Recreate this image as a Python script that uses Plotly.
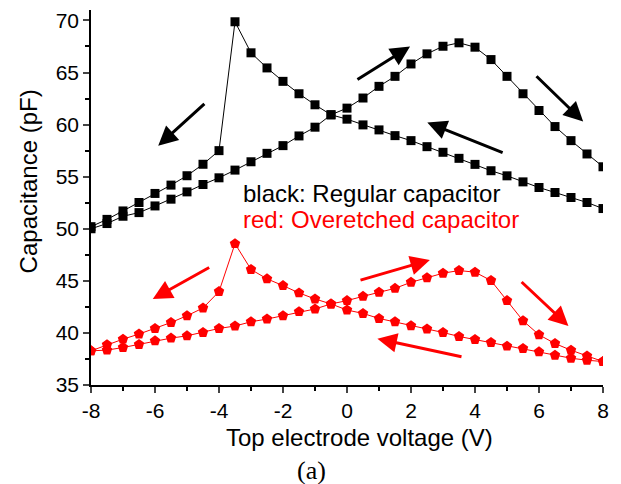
import plotly.graph_objects as go

voltage = [-8 + 0.5 * i for i in range(33)]

# Regular capacitor (black)
black_forward = [50.0, 50.5, 51.2, 51.55, 52.19, 52.84, 53.54, 54.25, 54.89, 55.63, 56.43,
                 57.24, 57.98, 58.91, 59.75, 60.94, 61.58, 62.55, 63.67, 64.63, 65.82, 66.79,
                 67.52, 67.85, 67.43, 66.24, 64.63, 62.96, 61.35, 59.81, 58.46, 57.18, 55.95]
black_backward = [50.2, 50.9, 51.71, 52.52, 53.39, 54.19, 55.09, 56.19, 57.5, 69.87, 66.89,
                  65.44, 64.15, 62.96, 61.9, 60.94, 60.52, 59.97, 59.49, 58.94, 58.46, 57.88,
                  57.34, 56.76, 56.18, 55.57, 55.08, 54.5, 53.96, 53.48, 53.0, 52.52, 51.94]

# Overetched capacitor (red)
red_forward = [38.28, 38.35, 38.6, 38.89, 39.24, 39.5, 39.72, 40.04, 40.43, 40.66, 41.07,
               41.33, 41.65, 42.04, 42.3, 42.78, 43.1, 43.51, 43.9, 44.28, 44.86, 45.29,
               45.73, 45.99, 45.83, 45.03, 43.1, 41.17, 39.82, 38.98, 38.34, 37.79, 37.25]
red_backward = [38.28, 38.86, 39.4, 39.89, 40.43, 41.0, 41.65, 42.39, 43.97, 48.57, 46.09,
                45.19, 44.54, 43.84, 43.26, 42.78, 42.2, 41.87, 41.39, 41.07, 40.69, 40.37,
                40.04, 39.66, 39.37, 39.08, 38.73, 38.5, 38.18, 37.86, 37.57, 37.38, 37.25]

# Sweep-direction arrows: (tail_x, tail_y, head_x, head_y)
black_arrows = [(-4.41, 62.12, -5.90, 57.96), (0.28, 64.23, 1.97, 67.49),
                (5.875, 64.78, 7.38, 60.29), (4.91, 57.26, 2.51, 60.2)]
red_arrows = [(-4.26, 46.36, -6.07, 43.26), (0.375, 45.02, 2.59, 47.0),
              (5.41, 45.02, 6.92, 40.67), (3.625, 37.69, 0.95, 39.45)]

x_ticks = [-8, -6, -4, -2, 0, 2, 4, 6, 8]
x_ticktext = ["-8", "-6", "-4", "-2", "0", "2", "4", "6", "8"]
y_ticks = [35, 40, 45, 50, 55, 60, 65, 70]

FONT = "Liberation Sans, Arial, sans-serif"

fig = go.Figure()
for ys in (black_forward, black_backward):
    fig.add_trace(go.Scatter(x=voltage, y=ys, mode="lines+markers",
                             line=dict(color="black", width=1),
                             marker=dict(symbol="square", size=9, color="black"),
                             showlegend=False))
for ys in (red_forward, red_backward):
    fig.add_trace(go.Scatter(x=voltage, y=ys, mode="lines+markers",
                             line=dict(color="red", width=1),
                             marker=dict(symbol="pentagon", size=11, color="red"),
                             showlegend=False))

annotations = []
for arrows, col in ((black_arrows, "black"), (red_arrows, "red")):
    for tx, ty, hx, hy in arrows:
        annotations.append(dict(x=hx, y=hy, ax=tx, ay=ty, xref="x", yref="y",
                                axref="x", ayref="y", text="", showarrow=True,
                                arrowhead=2, arrowsize=1.3, arrowwidth=3,
                                arrowcolor=col, standoff=0, startstandoff=0))

annotations += [
    dict(x=-3.32, y=53.4, xref="x", yref="y", text="black: Regular capacitor",
         showarrow=False, xanchor="left", yanchor="middle",
         font=dict(family=FONT, size=24, color="black")),
    dict(x=-3.32, y=50.85, xref="x", yref="y", text="red: Overetched capacitor",
         showarrow=False, xanchor="left", yanchor="middle",
         font=dict(family=FONT, size=24, color="red")),
    dict(x=0.525, y=-0.139, xref="paper", yref="paper", text="Top electrode voltage (V)",
         showarrow=False, xanchor="center", yanchor="middle",
         font=dict(family=FONT, size=24, color="black")),
    dict(x=0.431, y=-0.227, xref="paper", yref="paper", text="(a)",
         showarrow=False, xanchor="center", yanchor="middle",
         font=dict(family="Liberation Serif, Times New Roman, serif", size=26, color="black")),
    dict(x=-0.123, y=0.543, xref="paper", yref="paper", text="Capacitance (pF)",
         showarrow=False, xanchor="center", yanchor="middle", textangle=-90,
         font=dict(family=FONT, size=24, color="black")),
]

fig.update_layout(
    width=621, height=484,
    margin=dict(l=91, r=18, t=10, b=99),
    paper_bgcolor="white", plot_bgcolor="white",
    font=dict(family=FONT, size=21, color="black"),
    annotations=annotations,
    xaxis=dict(range=[-8, 8], tickvals=x_ticks, ticktext=x_ticktext, ticks="outside",
               ticklen=6, tickwidth=1.5,
               showline=True, linecolor="black", linewidth=1.5, showgrid=False, zeroline=False,
               minor=dict(dtick=1, ticks="outside", ticklen=4, tickwidth=1.5, tickcolor="black"),
               tickfont=dict(size=21)),
    yaxis=dict(range=[35, 71], tickvals=y_ticks, ticks="outside", ticklen=6, tickwidth=1.5,
               showline=True, linecolor="black", linewidth=1.5, showgrid=False, zeroline=False,
               minor=dict(dtick=2.5, ticks="outside", ticklen=4, tickwidth=1.5, tickcolor="black"),
               tickfont=dict(size=21)),
)

fig.write_html("out.html")
